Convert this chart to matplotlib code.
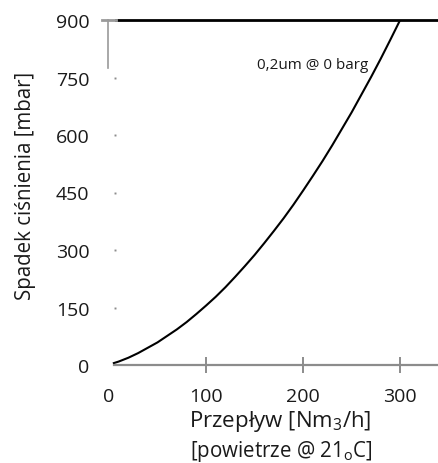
import numpy as np
import matplotlib
matplotlib.use("Agg")
import matplotlib.pyplot as plt

plt.rcParams['font.family'] = ['Open Sans', 'DejaVu Sans']
plt.rcParams['mathtext.fontset'] = 'custom'
plt.rcParams['mathtext.rm'] = 'Open Sans'
plt.rcParams['mathtext.default'] = 'regular'

# dane
przeplyw = [5, 10, 20, 30, 40, 50, 60, 70, 80, 90, 100, 110, 120, 130, 140, 150,
            160, 170, 180, 190, 200, 210, 220, 230, 240, 250, 260, 270, 280, 290, 300]
spadek = [5, 9, 19, 31, 45, 59, 76, 93, 112, 133, 155, 178, 203, 230, 258, 287,
          318, 350, 383, 418, 455, 493, 532, 573, 616, 659, 705, 751, 799, 849, 900]
x_ticks = [0, 100, 200, 300]
y_ticks = [0, 150, 300, 450, 600, 750, 900]
opis = "0,2um @ 0 barg"

W, H = 438, 464
fig = plt.figure(figsize=(W / 100, H / 100), dpi=100)
ax = fig.add_axes([109 / W, (H - 366) / H, (W - 109) / W, 345 / H])

ax.plot(przeplyw, spadek, color='black', lw=1.5)
ax.set_xlim(0, 339)
ax.set_ylim(0, 900)

for s in ['top', 'right', 'left']:
    ax.spines[s].set_visible(False)
ax.spines['bottom'].set_color('#8c8c8c')
ax.spines['bottom'].set_linewidth(1.6)
ax.spines['bottom'].set_bounds(5.5, 339)

ax.set_xticks(x_ticks)
ax.set_xticklabels([str(v) for v in x_ticks])
ax.tick_params(axis='x', direction='inout', length=11, width=1.4, color='#8c8c8c',
               labelsize=14, pad=10, labelcolor='#1a1a1a')
ax.xaxis.get_major_ticks()[0].tick1line.set_visible(False)

ax.set_yticks(y_ticks)
ax.set_yticklabels([str(v) for v in y_ticks])
ax.tick_params(axis='y', length=0, labelsize=14, pad=14, labelcolor='#1a1a1a')

# kropki w miejscu znacznikow osi Y
ax.plot([6] * 5, y_ticks[1:6], ls='none', marker='s', ms=1.4, color='#8c8c8c',
        mec='none')

# linia 900 i szary fragment
ax.plot([7.5, 339], [900, 900], color='black', lw=2, clip_on=False)
ax.plot([-7, 7.5], [900, 900], color='#9a9a9a', lw=2, clip_on=False)
ax.plot([-0.8, -0.8], [900, 775], color='#9a9a9a', lw=1.2, clip_on=False)

ax.text(267, 785, opis, ha='right', va='center', fontsize=11, color='#1a1a1a')

fig.text(26 / W, 1 - 186 / H, "Spadek ciśnienia [mbar]", rotation=90,
         ha='center', va='center', fontsize=14.8, color='#1a1a1a')
fig.text(280 / W, 1 - 427 / H, r"Przepływ [Nm$_3$/h]", ha='center', va='baseline',
         fontsize=16, color='#1a1a1a')
fig.text(281 / W, 1 - 457 / H, r"[powietrze @ 21$_o$C]", ha='center', va='baseline',
         fontsize=14.8, color='#1a1a1a')

fig.savefig("out.png", dpi=100)
